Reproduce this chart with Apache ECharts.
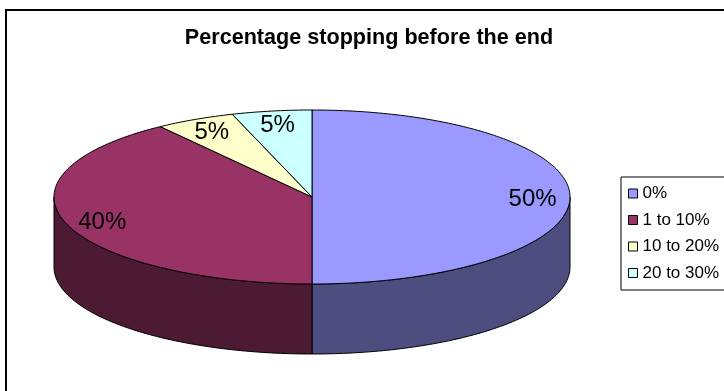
<!DOCTYPE html>
<html>
<head>
<meta charset="utf-8">
<title>Percentage stopping before the end</title>
<script src="https://cdn.jsdelivr.net/npm/echarts@6/dist/echarts.min.js"></script>
<style>
  html, body { margin: 0; padding: 0; background: #fff; }
  #chart { width: 724px; height: 391px; }
</style>
</head>
<body>
<div id="chart"></div>
<script>
// Share of respondents in each band (percent)
const categories = ['0%', '1 to 10%', '10 to 20%', '20 to 30%'];
const shares = [50, 40, 5, 5];

// Face colours of the tilted pie: top faces and darker outer walls
const topColors = ['#9999FF', '#993366', '#FFFFCC', '#CCFFFF'];
const sideColors = ['#4D4D80', '#4D1A33', '#80805F', '#668080'];

// Disc geometry (pixels)
const PIE = { cx: 312, cy: 197, rx: 258, ry: 87, depth: 70, labelR: 0.855 };
const FONT = 'Liberation Sans, Arial, sans-serif';

const total = shares.reduce((a, b) => a + b, 0);
let acc = 0;
const sliceData = shares.map(v => {
  const start = acc / total;
  acc += v;
  return [start, acc / total, v];
});

// Point on the rim for an angle measured clockwise from 12 o'clock
function rim(t, dy) {
  return [PIE.cx + PIE.rx * Math.sin(t), PIE.cy - PIE.ry * Math.cos(t) + (dy || 0)];
}
function arc(a0, a1, dy) {
  const pts = [];
  const n = Math.max(2, Math.ceil((a1 - a0) / (Math.PI / 180)));
  for (let i = 0; i <= n; i++) pts.push(rim(a0 + (a1 - a0) * i / n, dy));
  return pts;
}

function renderSlice(idx) {
  return function (params, api) {
    const a0 = api.value(0) * 2 * Math.PI;
    const a1 = api.value(1) * 2 * Math.PI;
    const children = [];
    // outer wall: only the half facing the viewer is visible
    const s0 = Math.max(a0, Math.PI / 2);
    const s1 = Math.min(a1, 3 * Math.PI / 2);
    if (s1 > s0) {
      const pts = arc(s0, s1, 0).concat(arc(s0, s1, PIE.depth).reverse());
      children.push({
        type: 'polygon', z2: 1,
        shape: { points: pts },
        style: { fill: sideColors[idx], stroke: '#000', lineWidth: 1 }
      });
    }
    // top face
    children.push({
      type: 'polygon', z2: 10,
      shape: { points: [[PIE.cx, PIE.cy]].concat(arc(a0, a1, 0)) },
      style: { fill: topColors[idx], stroke: '#000', lineWidth: 1, lineJoin: 'round' }
    });
    // value label inside the slice
    const mid = (a0 + a1) / 2;
    children.push({
      type: 'text', z2: 20,
      x: PIE.cx + PIE.rx * PIE.labelR * Math.sin(mid),
      y: PIE.cy - PIE.ry * PIE.labelR * Math.cos(mid) + 2,
      style: {
        text: api.value(2) + '%',
        fill: '#000', font: '24px ' + FONT,
        align: 'center', verticalAlign: 'middle'
      }
    });
    return { type: 'group', children: children };
  };
}

const chart = echarts.init(document.getElementById('chart'), null, { renderer: 'canvas' });
chart.setOption({
  animation: false,
  backgroundColor: '#fff',
  title: {
    text: 'Percentage stopping before the end',
    left: 364, top: 22, textAlign: 'center',
    textStyle: { fontFamily: FONT, fontSize: 21.6, fontWeight: 'bold', color: '#000' }
  },
  legend: {
    orient: 'vertical',
    left: 621, top: 177,
    padding: [8, 6, 8.5, 7],
    itemGap: 9.5,
    itemWidth: 9, itemHeight: 9,
    itemTextGap: 5,
    icon: 'rect',
    borderColor: '#000', borderWidth: 1,
    backgroundColor: '#fff',
    selectedMode: false,
    itemStyle: { borderColor: '#000', borderWidth: 1 },
    textStyle: { fontFamily: FONT, fontSize: 17, lineHeight: 17, color: '#000' },
    data: categories
  },
  graphic: [{
    type: 'rect', z: -10, silent: true,
    shape: { x: 6, y: 10, width: 760, height: 420 },
    style: { fill: 'none', stroke: '#000', lineWidth: 2 }
  }],
  series: categories.map((name, i) => ({
    type: 'custom',
    name: name,
    coordinateSystem: 'none',
    silent: true,
    itemStyle: { color: topColors[i], borderColor: '#000', borderWidth: 1 },
    data: [sliceData[i]],
    renderItem: renderSlice(i)
  }))
});
</script>
</body>
</html>
